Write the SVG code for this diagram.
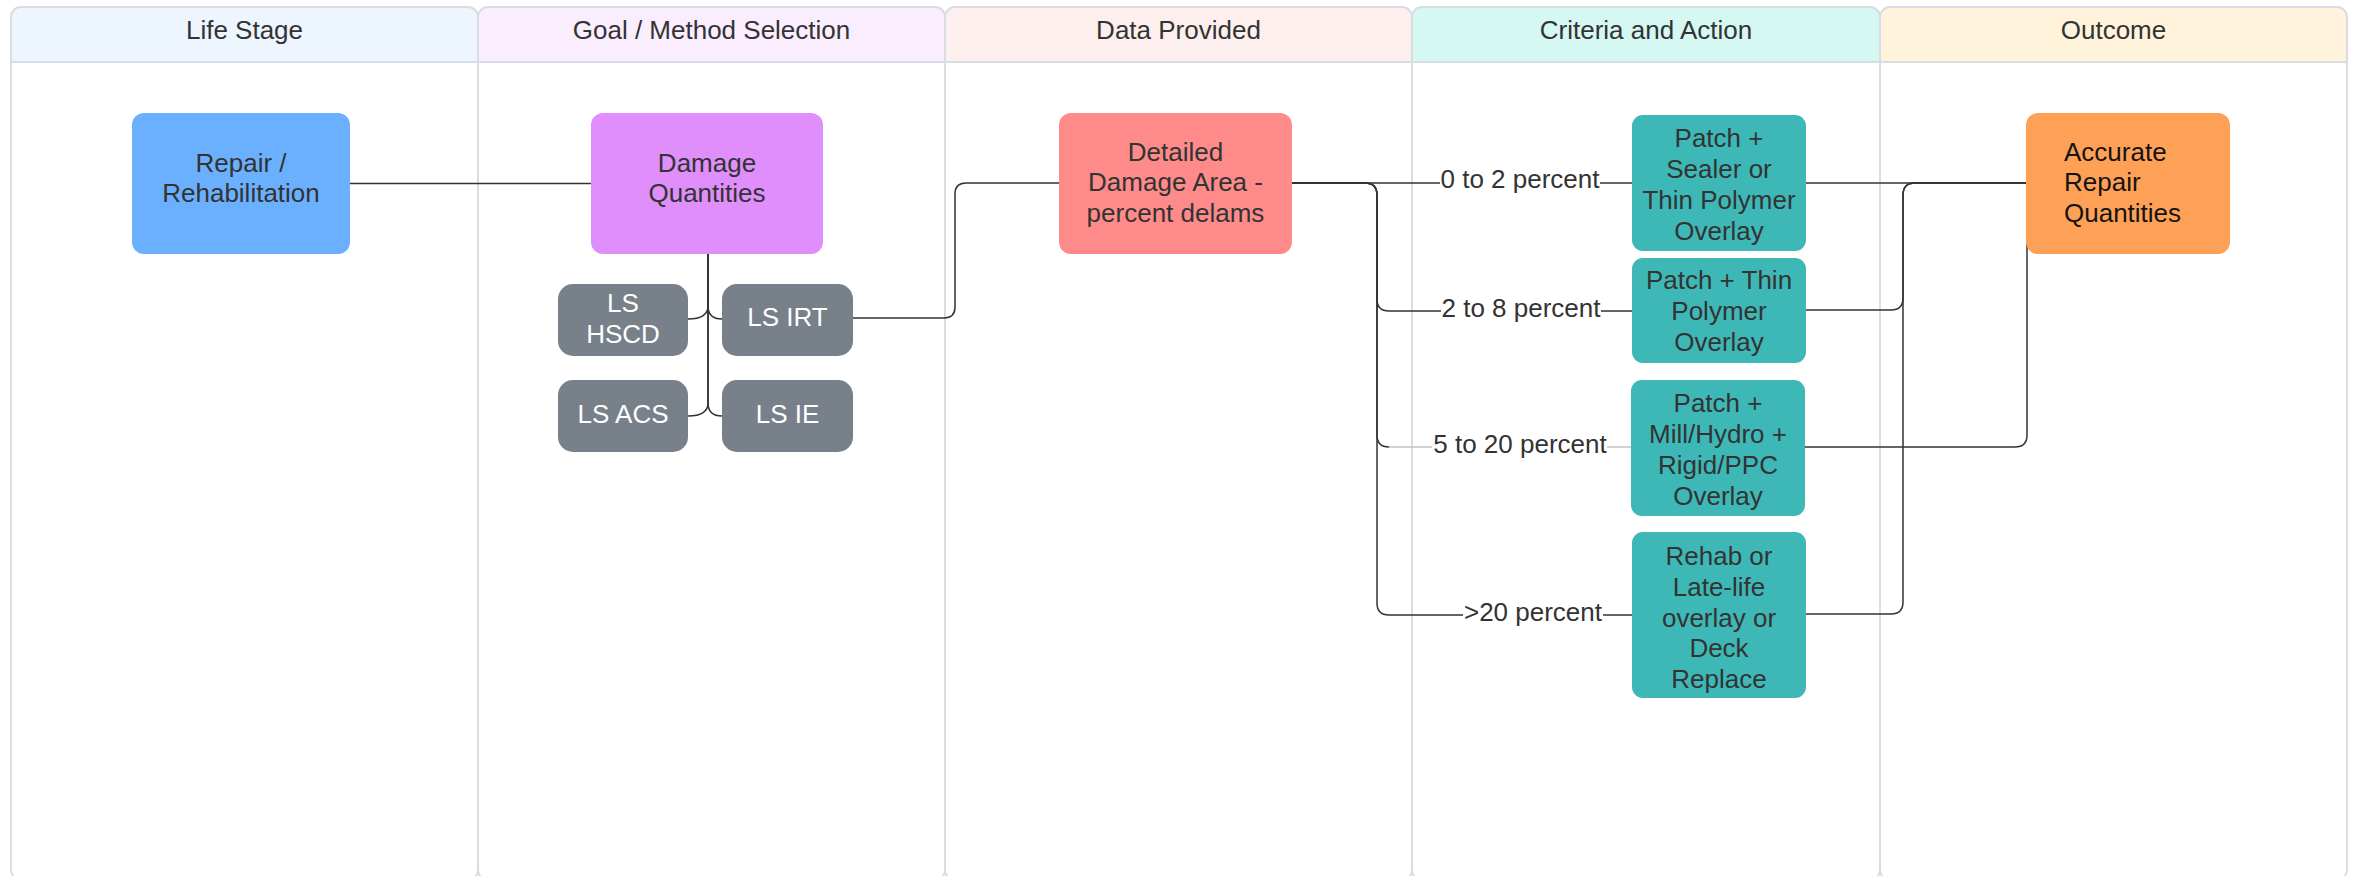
<svg xmlns="http://www.w3.org/2000/svg" width="2356" height="876" viewBox="0 0 2356 876">
  <style>
    .lane-bg { fill: #ffffff; }
    .lane-line { fill: none; stroke: #D9DDE3; stroke-width: 2; }
    .hdr-text { font-family: "Liberation Sans", Arial, sans-serif; font-size: 26px; fill: #333333; text-anchor: middle; }
    .node text { font-family: "Liberation Sans", Arial, sans-serif; font-size: 26px; fill: #333333; text-anchor: middle; }
    .node .light { fill: #ffffff; }
    .conn path { fill: none; stroke: #333333; stroke-width: 1.5; }
    .conn path.faint { stroke: #C2C2C2; }
    .label rect { fill: #ffffff; }
    .label text { font-family: "Liberation Sans", Arial, sans-serif; font-size: 26px; fill: #333333; text-anchor: middle; }
  </style>

  <!-- swimlanes -->
  <g id="lanes">
    <g id="lane-life-stage">
      <rect class="lane-bg" x="11" y="7" width="467" height="873" rx="10"/>
      <path d="M11,62 V17 A10,10 0 0 1 21,7 H468 A10,10 0 0 1 478,17 V62 Z" fill="#EDF5FF"/>
      <line class="lane-line" x1="11" y1="62" x2="478" y2="62"/>
      <rect class="lane-line" x="11" y="7" width="467" height="873" rx="10"/>
      <text class="hdr-text" x="244.5" y="39">Life Stage</text>
    </g>
    <g id="lane-goal">
      <rect class="lane-bg" x="478" y="7" width="467" height="873" rx="10"/>
      <path d="M478,62 V17 A10,10 0 0 1 488,7 H935 A10,10 0 0 1 945,17 V62 Z" fill="#F9EDFE"/>
      <line class="lane-line" x1="478" y1="62" x2="945" y2="62"/>
      <rect class="lane-line" x="478" y="7" width="467" height="873" rx="10"/>
      <text class="hdr-text" x="711.5" y="39">Goal / Method Selection</text>
    </g>
    <g id="lane-data">
      <rect class="lane-bg" x="945" y="7" width="467" height="873" rx="10"/>
      <path d="M945,62 V17 A10,10 0 0 1 955,7 H1402 A10,10 0 0 1 1412,17 V62 Z" fill="#FEEFEF"/>
      <line class="lane-line" x1="945" y1="62" x2="1412" y2="62"/>
      <rect class="lane-line" x="945" y="7" width="467" height="873" rx="10"/>
      <text class="hdr-text" x="1178.5" y="39">Data Provided</text>
    </g>
    <g id="lane-criteria">
      <rect class="lane-bg" x="1412" y="7" width="468" height="873" rx="10"/>
      <path d="M1412,62 V17 A10,10 0 0 1 1422,7 H1870 A10,10 0 0 1 1880,17 V62 Z" fill="#D5F8F3"/>
      <line class="lane-line" x1="1412" y1="62" x2="1880" y2="62"/>
      <rect class="lane-line" x="1412" y="7" width="468" height="873" rx="10"/>
      <text class="hdr-text" x="1646" y="39">Criteria and Action</text>
    </g>
    <g id="lane-outcome">
      <rect class="lane-bg" x="1880" y="7" width="467" height="873" rx="10"/>
      <path d="M1880,62 V17 A10,10 0 0 1 1890,7 H2337 A10,10 0 0 1 2347,17 V62 Z" fill="#FFF3DB"/>
      <line class="lane-line" x1="1880" y1="62" x2="2347" y2="62"/>
      <rect class="lane-line" x="1880" y="7" width="467" height="873" rx="10"/>
      <text class="hdr-text" x="2113.5" y="39">Outcome</text>
    </g>
  </g>

  <!-- connectors -->
  <g id="connectors" class="conn">
    <path d="M350,183.5 H591"/>
    <path d="M708,254 V306 C708,315 700,319 688,319"/>
    <path d="M708,254 V306 C708,315 713,319 722,319"/>
    <path d="M708,254 V403 C708,412 700,416 688,416"/>
    <path d="M708,254 V403 C708,412 713,416 722,416"/>
    <path d="M853,318 H944 Q955,318 955,307 V194 Q955,183 966,183 H1059"/>
    <path d="M1292,183 H1632"/>
    <path d="M1292,183 H1365 Q1377,183 1377,195 V299 Q1377,311 1389,311 H1632"/>
    <path d="M1292,183 H1365 Q1377,183 1377,195 V435 Q1377,447 1389,447"/>
    <path class="faint" d="M1389,447 H1631"/>
    <path d="M1292,183 H1365 Q1377,183 1377,195 V603 Q1377,615 1389,615 H1632"/>
    <path d="M1806,183 H2026"/>
    <path d="M1806,310 H1891 Q1903,310 1903,298 V195 Q1903,183 1915,183 H2026"/>
    <path d="M1805,447 H2015 Q2027,447 2027,435 V183"/>
    <path d="M1806,614 H1891 Q1903,614 1903,602 V195 Q1903,183 1915,183 H2026"/>
  </g>

  <!-- connector labels -->
  <g id="labels">
    <g class="label" id="label-0-2">
      <rect x="1440" y="170" width="160" height="22"/>
      <text x="1520" y="188">0 to 2 percent</text>
    </g>
    <g class="label" id="label-2-8">
      <rect x="1441" y="299" width="160" height="22"/>
      <text x="1521" y="317">2 to 8 percent</text>
    </g>
    <g class="label" id="label-5-20">
      <rect x="1432" y="435" width="175" height="22"/>
      <text x="1520" y="453">5 to 20 percent</text>
    </g>
    <g class="label" id="label-20">
      <rect x="1463" y="603" width="140" height="22"/>
      <text x="1533" y="621">&gt;20 percent</text>
    </g>
  </g>

  <!-- nodes -->
  <g id="node-repair" class="node">
    <rect x="132" y="113" width="218" height="141" rx="12" fill="#6AB0FE"/>
    <text x="241" y="172">Repair /</text>
    <text x="241" y="202">Rehabilitation</text>
  </g>
  <g id="node-damage" class="node">
    <rect x="591" y="113" width="232" height="141" rx="12" fill="#E08EFB"/>
    <text x="707" y="172">Damage</text>
    <text x="707" y="202">Quantities</text>
  </g>
  <g id="node-ls-hscd" class="node">
    <rect x="558" y="284" width="130" height="72" rx="15" fill="#78808A"/>
    <text class="light" x="623" y="312">LS</text>
    <text class="light" x="623" y="343">HSCD</text>
  </g>
  <g id="node-ls-irt" class="node">
    <rect x="722" y="284" width="131" height="72" rx="15" fill="#78808A"/>
    <text class="light" x="787.5" y="326">LS IRT</text>
  </g>
  <g id="node-ls-acs" class="node">
    <rect x="558" y="380" width="130" height="72" rx="15" fill="#78808A"/>
    <text class="light" x="623" y="423">LS ACS</text>
  </g>
  <g id="node-ls-ie" class="node">
    <rect x="722" y="380" width="131" height="72" rx="15" fill="#78808A"/>
    <text class="light" x="787.5" y="423">LS IE</text>
  </g>
  <g id="node-detailed" class="node">
    <rect x="1059" y="113" width="233" height="141" rx="12" fill="#FF8A8A"/>
    <text x="1175.5" y="160.5">Detailed</text>
    <text x="1175.5" y="191">Damage Area -</text>
    <text x="1175.5" y="221.5">percent delams</text>
  </g>
  <g id="node-sealer" class="node">
    <rect x="1632" y="115" width="174" height="136" rx="11" fill="#3DB8B7"/>
    <text x="1719" y="147">Patch +</text>
    <text x="1719" y="178">Sealer or</text>
    <text x="1719" y="209">Thin Polymer</text>
    <text x="1719" y="240">Overlay</text>
  </g>
  <g id="node-thin" class="node">
    <rect x="1632" y="258" width="174" height="105" rx="11" fill="#3DB8B7"/>
    <text x="1719" y="289">Patch + Thin</text>
    <text x="1719" y="320">Polymer</text>
    <text x="1719" y="351">Overlay</text>
  </g>
  <g id="node-mill" class="node">
    <rect x="1631" y="380" width="174" height="136" rx="11" fill="#3DB8B7"/>
    <text x="1718" y="412">Patch +</text>
    <text x="1718" y="443">Mill/Hydro +</text>
    <text x="1718" y="474">Rigid/PPC</text>
    <text x="1718" y="505">Overlay</text>
  </g>
  <g id="node-rehab" class="node">
    <rect x="1632" y="532" width="174" height="166" rx="11" fill="#3DB8B7"/>
    <text x="1719" y="565">Rehab or</text>
    <text x="1719" y="596">Late-life</text>
    <text x="1719" y="627">overlay or</text>
    <text x="1719" y="657">Deck</text>
    <text x="1719" y="688">Replace</text>
  </g>
  <g id="node-accurate" class="node">
    <rect x="2026" y="113" width="204" height="141" rx="12" fill="#FFA057"/>
    <text x="2064" y="160.5" style="text-anchor:start; fill:#141414">Accurate</text>
    <text x="2064" y="191" style="text-anchor:start; fill:#141414">Repair</text>
    <text x="2064" y="221.5" style="text-anchor:start; fill:#141414">Quantities</text>
  </g>
</svg>
